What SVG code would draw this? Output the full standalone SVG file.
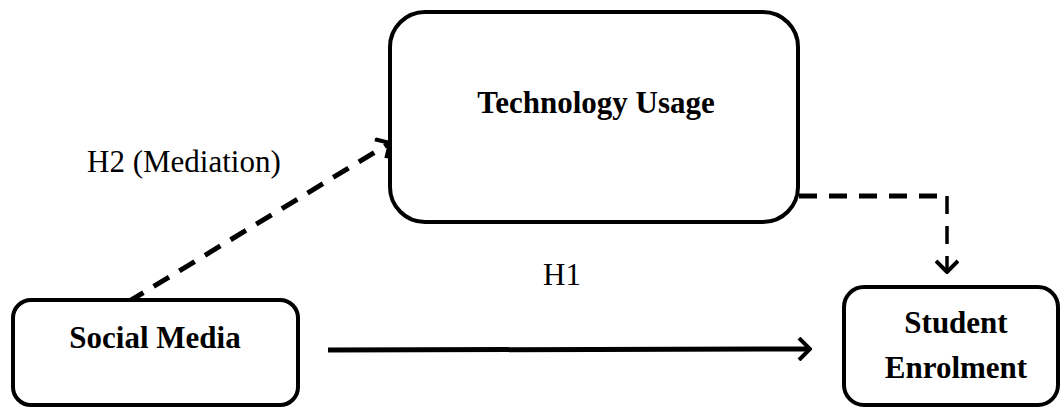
<svg xmlns="http://www.w3.org/2000/svg" width="1062" height="408" viewBox="0 0 1062 408">
<style>
.box{fill:#fff;stroke:#000;stroke-width:4}
.lbl{font-family:"Liberation Serif","Times New Roman",serif;font-size:31px;fill:#000}
.b{font-weight:bold;text-anchor:middle}
.dash{fill:none;stroke:#000;stroke-width:5;stroke-dasharray:18 12}
.solid{fill:none;stroke:#000;stroke-width:5}
</style>
<defs>
<marker id="chev" viewBox="0 0 24 24" refX="22" refY="12" markerWidth="24" markerHeight="24" markerUnits="userSpaceOnUse" orient="auto">
<path d="M11,1 L22,12 L11,23" fill="none" stroke="#000" stroke-width="4"/>
</marker>
</defs>
<rect width="1062" height="408" fill="#fff"/>
<g id="connectors">
<path class="dash" d="M128,302 L390,143" marker-end="url(#chev)"/>
<path class="dash" d="M799,196 L947,196"/>
<path class="dash" d="M947,196 L947,272" style="stroke-width:3.5" marker-end="url(#chev)"/>
<path class="solid" d="M328,350 L810,349" marker-end="url(#chev)"/>
</g>
<g id="tech">
<rect class="box" x="390" y="12" width="408" height="210" rx="35"/>
<text class="lbl b" x="596" y="113">Technology Usage</text>
</g>
<g id="social">
<rect class="box" x="13" y="300" width="285" height="105" rx="18"/>
<text class="lbl b" x="155" y="348">Social Media</text>
</g>
<g id="student">
<rect class="box" x="844" y="287" width="214" height="118" rx="20"/>
<text class="lbl b" x="956" y="333">Student</text>
<text class="lbl b" x="956" y="378">Enrolment</text>
</g>
<g id="labels">
<text class="lbl" x="87" y="172">H2 (Mediation)</text>
<text class="lbl" x="543" y="285">H1</text>
</g>
</svg>
